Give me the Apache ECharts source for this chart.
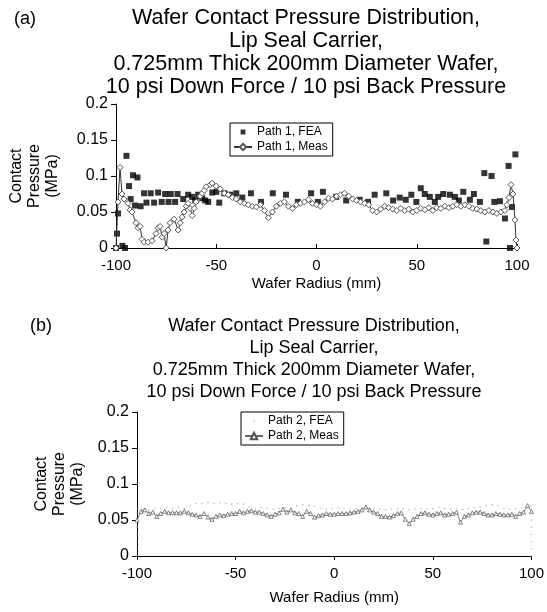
<!DOCTYPE html>
<html><head><meta charset="utf-8">
<script src="https://cdn.jsdelivr.net/npm/echarts@6/dist/echarts.min.js"></script>
<style>html,body{margin:0;padding:0;background:#fff}#c{width:547px;height:612px}</style>
</head><body><div id="c"></div>
<script>
const FONT = '"Liberation Sans", Arial, Helvetica, sans-serif';
const titleLines = ['Wafer Contact Pressure Distribution,', 'Lip Seal Carrier,', '0.725mm Thick 200mm Diameter Wafer,', '10 psi Down Force / 10 psi Back Pressure'];
const panelLabels = ['(a)', '(b)'];
const xAxisName = 'Wafer Radius (mm)';
const yAxisName = 'Contact\nPressure\n(MPa)';
const seriesNames = ['Path 1, FEA', 'Path 1, Meas', 'Path 2, FEA', 'Path 2, Meas'];

// Path 1, FEA (black squares)
const fea1X = [-100,-99.5,-99,-96.8,-95.5,-94.8,-93.5,-92.7,-91.5,-90.5,-89.3,-87.7,-86,-84.8,-82.7,-81,-79,-77.2,-75.5,-73.8,-72.7,-70.5,-69.3,-66.5,-64,-62,-60.5,-59,-57,-55.5,-54,-52,-50,-48.5,-46,-43,-40,-37,-32.7,-27.7,-21.8,-15.2,-9.3,-2.7,0.7,3.2,9.8,14.8,21.5,25.7,29,34.8,38.2,41.5,44.5,47.3,49.8,52,54,56.5,59,60.7,63.2,66.5,69,71,73.2,76.5,78.5,81.5,83.7,84.7,87.3,88.7,91.5,94,95.8,96.5,97.5,99.2];
const fea1Y = [0,0.02,0.048,0.003,0,0.128,0.086,0.068,0.101,0.059,0.098,0.058,0.076,0.063,0.076,0.063,0.077,0.064,0.075,0.064,0.075,0.064,0.075,0.068,0.074,0.071,0.066,0.074,0.069,0.066,0.064,0.077,0.078,0.063,0.076,0.074,0.076,0.070,0.076,0.064,0.076,0.074,0.064,0.076,0.064,0.078,0.071,0.066,0.067,0.064,0.074,0.076,0.066,0.070,0.067,0.074,0.064,0.083,0.075,0.071,0.064,0.071,0.075,0.074,0.071,0.066,0.078,0.067,0.075,0.064,0.104,0.009,0.100,0.064,0.065,0.041,0.114,0,0.057,0.130];

// Path 1, Meas (diamonds, line)
const meas1X = [-100,-99,-98,-97,-96,-94,-93,-92,-90,-89,-88,-87,-86,-84,-82,-80,-79,-78,-77,-76,-75,-74,-73,-71,-69,-68,-67,-66,-65,-64,-63,-62,-61,-60,-58,-57,-56,-55,-53,-52,-50,-48,-46,-44,-42,-40,-38,-36,-34,-32,-30,-28,-26,-24,-22,-20,-18,-16,-14,-12,-10,-8,-6,-4,-2,0,2,4,6,8,10,12,14,16,18,20,22,24,26,28,30,32,34,36,38,40,42,44,46,48,50,52,54,56,58,60,62,64,66,68,70,72,74,76,78,80,82,84,86,88,90,92,94,95,96,97,98,99,99.5,100];
const meas1Y = [0,0.064,0.112,0.075,0.068,0.062,0.053,0.050,0.035,0.028,0.030,0.012,0.008,0.008,0.010,0.020,0.028,0.030,0.015,0.020,0.0,0.025,0.035,0.040,0.025,0.035,0.043,0.050,0.058,0.062,0.055,0.045,0.055,0.064,0.072,0.076,0.080,0.085,0.088,0.090,0.086,0.082,0.076,0.074,0.070,0.068,0.064,0.062,0.060,0.058,0.057,0.060,0.052,0.042,0.050,0.058,0.062,0.064,0.058,0.055,0.060,0.062,0.064,0.067,0.062,0.060,0.058,0.064,0.069,0.068,0.072,0.074,0.076,0.072,0.068,0.066,0.064,0.062,0.060,0.052,0.050,0.054,0.058,0.056,0.054,0.052,0.055,0.052,0.054,0.050,0.052,0.055,0.053,0.056,0.052,0.056,0.055,0.058,0.056,0.058,0.060,0.058,0.060,0.058,0.055,0.054,0.052,0.050,0.052,0.050,0.048,0.050,0.052,0.060,0.070,0.088,0.075,0.039,0.011,0.0];

// Path 2, FEA (tiny grey dots)
const fea2X = [-100,-100,-100,-100,-100,-100,-100,-99.5,-97,-94,-91,-88,-85,-82,-79,-76,-73,-70,-67,-64,-61,-58,-55,-52,-49,-46,-43,-40,-37,-34,-31,-28,-25,-22,-19,-16,-13,-10,-7,-4,-1,2,5,8,11,14,17,20,23,26,29,32,35,38,41,44,47,50,53,56,59,62,65,68,71,74,77,80,83,86,89,92,95,98,99.5,100,100,100,100,100,100,100];
const fea2Y = [0,0.01,0.02,0.03,0.04,0.05,0.06,0.066,0.065,0.064,0.066,0.065,0.067,0.066,0.068,0.066,0.070,0.073,0.073,0.074,0.073,0.074,0.073,0.072,0.073,0.072,0.068,0.066,0.067,0.066,0.065,0.066,0.067,0.066,0.070,0.071,0.070,0.069,0.066,0.065,0.066,0.067,0.066,0.065,0.066,0.068,0.067,0.066,0.065,0.064,0.065,0.066,0.065,0.064,0.065,0.066,0.065,0.066,0.067,0.066,0.065,0.066,0.065,0.066,0.067,0.068,0.070,0.071,0.070,0.066,0.065,0.066,0.067,0.068,0.070,0.06,0.05,0.04,0.03,0.02,0.01,0];

// Path 2, Meas (triangles, line)
const meas2X = [-100,-98,-96,-94,-92,-90,-88,-86,-84,-82,-80,-78,-76,-74,-72,-70,-68,-66,-64,-62,-60,-58,-56,-54,-52,-50,-48,-46,-44,-42,-40,-38,-36,-34,-32,-30,-28,-26,-24,-22,-20,-18,-16,-14,-12,-10,-8,-6,-4,-2,0,2,4,6,8,10,12,14,16,18,20,22,24,26,28,30,32,34,36,38,40,42,44,46,48,50,52,54,56,58,60,62,64,66,68,70,72,74,76,78,80,82,84,86,88,90,92,94,96,98,100];
const meas2Y = [0.050,0.062,0.064,0.059,0.061,0.055,0.059,0.062,0.060,0.060,
  0.060,0.060,0.062,0.060,0.058,0.057,0.055,0.059,0.054,0.051,
  0.055,0.057,0.056,0.058,0.059,0.059,0.062,0.060,0.062,0.063,
  0.061,0.061,0.059,0.057,0.055,0.058,0.060,0.065,0.061,0.064,
  0.060,0.059,0.055,0.062,0.059,0.054,0.056,0.057,0.059,0.058,
  0.058,0.059,0.059,0.059,0.060,0.061,0.062,0.064,0.068,0.064,
  0.061,0.059,0.055,0.055,0.054,0.056,0.059,0.060,0.051,0.045,
  0.051,0.055,0.059,0.060,0.058,0.057,0.059,0.060,0.057,0.058,
  0.059,0.061,0.047,0.055,0.057,0.060,0.061,0.061,0.059,0.057,
  0.057,0.059,0.058,0.057,0.057,0.058,0.055,0.059,0.061,0.070,
  0.062];

const zip = (xs, ys) => xs.map((x, i) => [x, ys[i]]);

const SQUARE_ICON = 'path://M0,0L0.01,0M2,2h6v6h-6zM10,10L9.99,10';
const DOT_ICON = 'path://M0,0L0.01,0M4.4,4.4h1.2v1.2h-1.2zM10,10L9.99,10';

function xAxisCfg(gridIndex, nameGap, tickInside) {
  return {
    type: 'value', gridIndex, min: -100, max: 100, interval: 50,
    name: xAxisName, nameLocation: 'middle', nameGap,
    nameTextStyle: { fontFamily: FONT, fontSize: 15, color: '#000' },
    axisLine: { onZero: false, lineStyle: { color: '#000', width: 1 } },
    axisTick: { inside: tickInside, length: 4, lineStyle: { color: '#000' } },
    axisLabel: { fontFamily: FONT, fontSize: 15, color: '#000', margin: 10 },
    splitLine: { show: false }
  };
}
function yAxisCfg(gridIndex, nameGap) {
  return {
    type: 'value', gridIndex, min: 0, max: 0.2, interval: 0.05,
    name: yAxisName, nameLocation: 'middle', nameRotate: 90, nameGap,
    nameTextStyle: { fontFamily: FONT, fontSize: 16, lineHeight: 18, color: '#000' },
    axisLine: { show: true, onZero: false, lineStyle: { color: '#000', width: 1 } },
    axisTick: { show: true, length: 5, lineStyle: { color: '#000' } },
    axisLabel: { fontFamily: FONT, fontSize: 16, color: '#000', margin: 8 },
    splitLine: { show: false }
  };
}
function legendCfg(items, left, top) {
  return {
    data: items, left, top, orient: 'vertical', selectedMode: false,
    borderColor: '#000', borderWidth: 1, padding: [3, 5, 3, 3], itemGap: 3,
    itemWidth: 18, itemHeight: 8,
    textStyle: { fontFamily: FONT, fontSize: 12, color: '#000' }
  };
}

const chart = echarts.init(document.getElementById('c'), null, { renderer: 'canvas' });
chart.setOption({
  animation: false,
  backgroundColor: '#fff',
  grid: [
    { left: 116, top: 104, width: 401, height: 144 },
    { left: 137, top: 412, width: 400, height: 144 }
  ],
  xAxis: [xAxisCfg(0, 28, true), xAxisCfg(1, 34, false)],
  yAxis: [yAxisCfg(0, 54), yAxisCfg(1, 46)],
  legend: [
    legendCfg([{ name: seriesNames[0], icon: SQUARE_ICON }, { name: seriesNames[1] }], 230, 123),
    legendCfg([{ name: seriesNames[2], icon: DOT_ICON, itemStyle: { color: '#666' } }, { name: seriesNames[3] }], 241, 412)
  ],
  graphic: [
    { type: 'text', x: 306, y: 7, style: { text: titleLines.join('\n'), font: '21.5px ' + FONT, align: 'center', verticalAlign: 'top', lineHeight: 23, fill: '#000' } },
    { type: 'text', x: 14, y: 10, style: { text: panelLabels[0], font: '18px ' + FONT, fill: '#000' } },
    { type: 'text', x: 314, y: 315, style: { text: titleLines.join('\n'), font: '18px ' + FONT, align: 'center', verticalAlign: 'top', lineHeight: 22, fill: '#000' } },
    { type: 'text', x: 30, y: 317, style: { text: panelLabels[1], font: '18px ' + FONT, fill: '#000' } }
  ],
  series: [
    { name: seriesNames[0], type: 'scatter', xAxisIndex: 0, yAxisIndex: 0, data: zip(fea1X, fea1Y),
      symbol: 'rect', symbolSize: 6, itemStyle: { color: '#000' }, z: 2 },
    { name: seriesNames[1], type: 'line', xAxisIndex: 0, yAxisIndex: 0, data: zip(meas1X, meas1Y),
      symbol: 'diamond', symbolSize: 6, showAllSymbol: true,
      itemStyle: { color: '#fff', borderColor: '#555', borderWidth: 1 },
      lineStyle: { color: '#333', width: 1 }, z: 3 },
    { name: seriesNames[2], type: 'scatter', xAxisIndex: 1, yAxisIndex: 1, data: zip(fea2X, fea2Y),
      symbol: 'circle', symbolSize: 1.6, itemStyle: { color: '#aaa' }, z: 2 },
    { name: seriesNames[3], type: 'line', xAxisIndex: 1, yAxisIndex: 1, data: zip(meas2X, meas2Y),
      symbol: 'triangle', symbolSize: 4, showAllSymbol: true,
      itemStyle: { color: '#fff', borderColor: '#555', borderWidth: 0.7 },
      lineStyle: { color: '#666', width: 0.8 }, z: 3 }
  ]
});
</script></body></html>
